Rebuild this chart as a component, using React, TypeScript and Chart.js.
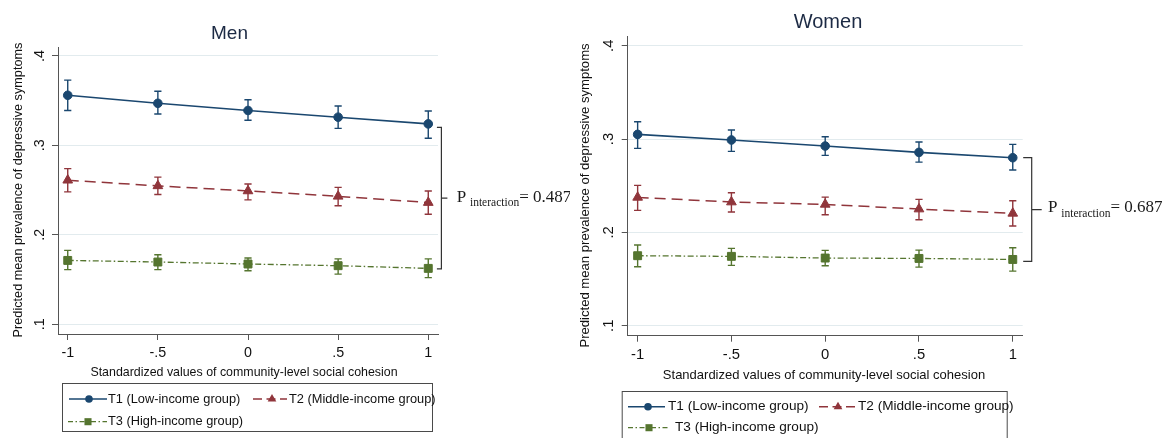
import React, { useEffect, useRef } from "react";
import { Chart, registerables } from "chart.js";

Chart.register(...registerables);

// ---------- data ----------
const cohesionValues = [-1, -0.5, 0, 0.5, 1];
const xTickValues = [-1, -0.5, 0, 0.5, 1];
const xTickLabels = ["-1", "-.5", "0", ".5", "1"];
const yTickValues = [0.1, 0.2, 0.3, 0.4];
const yTickLabels = [".1", ".2", ".3", ".4"];
const seriesNames = ["T1 (Low-income group)", "T2 (Middle-income group)", "T3 (High-income group)"];
const panelTitles = ["Men", "Women"];
const pInteraction = ["0.487", "0.687"];
const xAxisTitle = "Standardized values of community-level social cohesion";
const yAxisTitle = "Predicted mean prevalence of depressive symptoms";

const menT1 = [0.356, 0.347, 0.339, 0.3315, 0.324];
const menT1Low = [0.339, 0.335, 0.328, 0.319, 0.308];
const menT1High = [0.373, 0.3605, 0.351, 0.344, 0.3385];
const menT2 = [0.261, 0.2547, 0.249, 0.243, 0.236];
const menT2Low = [0.248, 0.245, 0.239, 0.2324, 0.223];
const menT2High = [0.274, 0.2645, 0.2567, 0.253, 0.249];
const menT3 = [0.1713, 0.1695, 0.1673, 0.1654, 0.1624];
const menT3Low = [0.161, 0.161, 0.1598, 0.156, 0.152];
const menT3High = [0.1825, 0.1777, 0.174, 0.173, 0.173];

const womenT1 = [0.305, 0.299, 0.2925, 0.2857, 0.28];
const womenT1Low = [0.29, 0.2868, 0.2825, 0.2753, 0.2668];
const womenT1High = [0.3186, 0.3097, 0.3025, 0.2968, 0.2943];
const womenT2 = [0.2375, 0.2325, 0.23, 0.225, 0.2204];
const womenT2Low = [0.2236, 0.2218, 0.2189, 0.2135, 0.2068];
const womenT2High = [0.2504, 0.2425, 0.2378, 0.2354, 0.2339];
const womenT3 = [0.175, 0.1743, 0.1725, 0.1721, 0.171];
const womenT3Low = [0.1632, 0.1647, 0.1642, 0.1628, 0.1585];
const womenT3High = [0.1864, 0.1829, 0.1807, 0.181, 0.1835];

// ---------- styles ----------
const SANS = "'Liberation Sans', Arial, Helvetica, sans-serif";
const SERIF = "'Liberation Serif', 'Times New Roman', serif";
const seriesStyles = [
  { color: "#1a476f", dash: [] as number[], legendDash: [] as number[], width: 1.6, point: "circle", radius: 4.3, legendRadius: 3.8 },
  { color: "#90353b", dash: [11, 6], legendDash: [9, 4.5], width: 1.5, point: "triangle", radius: 5.6, legendRadius: 5 },
  { color: "#55752f", dash: [6, 2.5, 1.5, 2.5], legendDash: [5, 2.5, 1.5, 2.5], width: 1.3, point: "rect", radius: 5.6, legendRadius: 5 },
];
const AXIS_COLOR = "#555555";
const GRID_COLOR = "#e2ebee";
const TEXT_COLOR = "#111111";
const TITLE_COLOR = "#1c2a44";

type Series = { mean: number[]; low: number[]; high: number[] };

const panels = [
  {
    title: panelTitles[0],
    p: pInteraction[0],
    series: [
      { mean: menT1, low: menT1Low, high: menT1High },
      { mean: menT2, low: menT2Low, high: menT2High },
      { mean: menT3, low: menT3Low, high: menT3High },
    ] as Series[],
    lay: {
      canvasLeft: 0,
      canvasWidth: 570,
      area: { left: 58, top: 47, right: 438, bottom: 334 },
      xMin: -1.054, xMax: 1.054, yMin: 0.089, yMax: 0.41,
      titleX: 229.5, titleBase: 39.3, titleSize: 19,
      yTitleX: 18.5, yTitleY: 190, yTitleSize: 12.7,
      xTitleX: 244, xTitleBase: 375.5, xTitleSize: 12.4,
      tickSize: 14.3, xTickPad: 4.4, yTickPad: 6.2, tickLen: 6,
      bracket: { dx: 3.4, topOff: 3.4, botOff: 0.6, leftTick: 4.5, rightTick: 6 },
      pText: { x: 456.7, baseOff: 4, size: 17, subSize: 11.5, gap: 3.8, subDrop: 4.3 },
      legend: {
        box: [62, 383, 432, 431],
        rows: [399, 421.7],
        size: 12.8,
        items: [
          { row: 0, x0: 69, x1: 107, mx: 89, tx: 108 },
          { row: 0, x0: 253, x1: 287, mx: 272, tx: 289 },
          { row: 1, x0: 68, x1: 107, mx: 88, tx: 108 },
        ],
      },
    },
  },
  {
    title: panelTitles[1],
    p: pInteraction[1],
    series: [
      { mean: womenT1, low: womenT1Low, high: womenT1High },
      { mean: womenT2, low: womenT2Low, high: womenT2High },
      { mean: womenT3, low: womenT3Low, high: womenT3High },
    ] as Series[],
    lay: {
      canvasLeft: 570,
      canvasWidth: 594,
      area: { left: 57.7, top: 36, right: 452.7, bottom: 335.7 },
      xMin: -1.053, xMax: 1.053, yMin: 0.0893, yMax: 0.4104,
      titleX: 258, titleBase: 28.3, titleSize: 20,
      yTitleX: 15.5, yTitleY: 195.5, yTitleSize: 13.1,
      xTitleX: 254, xTitleBase: 379, xTitleSize: 13,
      tickSize: 14.8, xTickPad: 4.6, yTickPad: 7, tickLen: 6,
      bracket: { dx: 9, topOff: 0, botOff: 2, leftTick: 8.5, rightTick: 10 },
      pText: { x: 478, baseOff: 2.7, size: 17, subSize: 11.5, gap: 3.8, subDrop: 4.3 },
      legend: {
        box: [51.7, 391, 436.7, 446],
        rows: [406.7, 427.7],
        size: 13.6,
        items: [
          { row: 0, x0: 58, x1: 95, mx: 78, tx: 98 },
          { row: 0, x0: 249, x1: 287, mx: 268, tx: 288 },
          { row: 1, x0: 58, x1: 98, mx: 79, tx: 105 },
        ],
      },
    },
  },
];

function drawMarker(ctx: CanvasRenderingContext2D, kind: string, x: number, y: number, r: number, color: string) {
  ctx.save();
  ctx.setLineDash([]);
  ctx.fillStyle = color;
  ctx.beginPath();
  if (kind === "circle") {
    ctx.arc(x, y, r, 0, Math.PI * 2);
  } else if (kind === "triangle") {
    ctx.moveTo(x, y - r);
    ctx.lineTo(x + r * 0.866, y + r * 0.5);
    ctx.lineTo(x - r * 0.866, y + r * 0.5);
    ctx.closePath();
  } else {
    const s = r * Math.SQRT1_2;
    ctx.rect(x - s, y - s, 2 * s, 2 * s);
  }
  ctx.fill();
  ctx.restore();
}

function makePlugin(panel: (typeof panels)[number]) {
  const L = panel.lay;
  return {
    id: "panelExtras",
    beforeDatasetsDraw(chart: any) {
      const ctx: CanvasRenderingContext2D = chart.ctx;
      const xs = chart.scales.x;
      const ys = chart.scales.y;
      ctx.save();
      ctx.setLineDash([]);
      ctx.lineWidth = 1.4;
      panel.series.forEach((s, i) => {
        ctx.strokeStyle = seriesStyles[i].color;
        cohesionValues.forEach((v, j) => {
          const px = xs.getPixelForValue(v);
          const lo = ys.getPixelForValue(s.low[j]);
          const hi = ys.getPixelForValue(s.high[j]);
          ctx.beginPath();
          ctx.moveTo(px, lo);
          ctx.lineTo(px, hi);
          ctx.moveTo(px - 3.6, lo);
          ctx.lineTo(px + 3.6, lo);
          ctx.moveTo(px - 3.6, hi);
          ctx.lineTo(px + 3.6, hi);
          ctx.stroke();
        });
      });
      ctx.restore();
    },
    afterDraw(chart: any) {
      const ctx: CanvasRenderingContext2D = chart.ctx;
      const ys = chart.scales.y;
      const area = chart.chartArea;
      ctx.save();
      // panel title
      ctx.fillStyle = TITLE_COLOR;
      ctx.font = `${L.titleSize}px ${SANS}`;
      ctx.textAlign = "center";
      ctx.textBaseline = "alphabetic";
      ctx.fillText(panel.title, L.titleX, L.titleBase);
      // axis titles
      ctx.fillStyle = TEXT_COLOR;
      ctx.font = `${L.xTitleSize}px ${SANS}`;
      ctx.fillText(xAxisTitle, L.xTitleX, L.xTitleBase);
      ctx.save();
      ctx.translate(L.yTitleX, L.yTitleY);
      ctx.rotate(-Math.PI / 2);
      ctx.font = `${L.yTitleSize}px ${SANS}`;
      ctx.textBaseline = "middle";
      ctx.fillText(yAxisTitle, 0, 0);
      ctx.restore();

      // bracket linking last points
      const last = cohesionValues.length - 1;
      const bx = area.right + L.bracket.dx;
      const top = ys.getPixelForValue(panel.series[0].mean[last]) + L.bracket.topOff;
      const bot = ys.getPixelForValue(panel.series[2].mean[last]) + L.bracket.botOff;
      const mid = (top + bot) / 2;
      ctx.strokeStyle = "#333333";
      ctx.lineWidth = 1.2;
      ctx.setLineDash([]);
      ctx.beginPath();
      ctx.moveTo(bx - L.bracket.leftTick, top);
      ctx.lineTo(bx, top);
      ctx.lineTo(bx, bot);
      ctx.lineTo(bx - L.bracket.leftTick, bot);
      ctx.moveTo(bx, mid);
      ctx.lineTo(bx + L.bracket.rightTick, mid);
      ctx.stroke();

      // P interaction text
      const pt = L.pText;
      const base = mid + pt.baseOff;
      ctx.fillStyle = "#1a1a1a";
      ctx.textAlign = "left";
      ctx.textBaseline = "alphabetic";
      ctx.font = `${pt.size}px ${SERIF}`;
      ctx.fillText("P", pt.x, base);
      let cx = pt.x + ctx.measureText("P").width + pt.gap;
      ctx.font = `${pt.subSize}px ${SERIF}`;
      ctx.fillText("interaction", cx, base + pt.subDrop);
      cx += ctx.measureText("interaction").width;
      ctx.font = `${pt.size}px ${SERIF}`;
      ctx.fillText("= " + panel.p, cx, base);

      // legend
      const lg = L.legend;
      ctx.strokeStyle = "#4a4a4a";
      ctx.lineWidth = 1;
      ctx.strokeRect(lg.box[0] + 0.5, lg.box[1] + 0.5, lg.box[2] - lg.box[0], lg.box[3] - lg.box[1]);
      ctx.font = `${lg.size}px ${SANS}`;
      ctx.textBaseline = "middle";
      lg.items.forEach((it, i) => {
        const st = seriesStyles[i];
        const y = lg.rows[it.row];
        ctx.strokeStyle = st.color;
        ctx.lineWidth = st.width;
        ctx.setLineDash(st.legendDash);
        ctx.beginPath();
        ctx.moveTo(it.x0, y);
        ctx.lineTo(it.x1, y);
        ctx.stroke();
        ctx.setLineDash([]);
        drawMarker(ctx, st.point, it.mx, y, st.legendRadius, st.color);
        ctx.fillStyle = TEXT_COLOR;
        ctx.fillText(seriesNames[i], it.tx, y);
      });
      ctx.restore();
    },
  };
}

function buildConfig(panel: (typeof panels)[number]): any {
  const L = panel.lay;
  const H = 438;
  return {
    type: "line",
    data: {
      datasets: panel.series.map((s, i) => {
        const st = seriesStyles[i];
        return {
          label: seriesNames[i],
          data: cohesionValues.map((x, j) => ({ x, y: s.mean[j] })),
          borderColor: st.color,
          backgroundColor: st.color,
          borderWidth: st.width,
          borderDash: st.dash,
          pointStyle: st.point,
          pointRadius: st.radius,
          pointBackgroundColor: st.color,
          pointBorderColor: st.color,
          pointBorderWidth: 1,
          tension: 0,
          fill: false,
        };
      }),
    },
    options: {
      responsive: false,
      animation: false,
      devicePixelRatio: 1,
      events: [],
      layout: {
        autoPadding: false,
        padding: { left: 0, top: L.area.top, right: L.canvasWidth - L.area.right, bottom: 0 },
      },
      plugins: { legend: { display: false }, title: { display: false }, tooltip: { enabled: false } },
      scales: {
        x: {
          type: "linear",
          position: "bottom",
          min: L.xMin,
          max: L.xMax,
          afterBuildTicks: (sc: any) => {
            sc.ticks = xTickValues.map((v) => ({ value: v }));
          },
          afterFit: (sc: any) => {
            sc.height = H - L.area.bottom;
          },
          grid: { display: true, drawOnChartArea: false, drawTicks: true, tickLength: L.tickLen, tickColor: AXIS_COLOR, tickWidth: 1 },
          border: { display: true, color: AXIS_COLOR, width: 1 },
          ticks: {
            autoSkip: false,
            maxRotation: 0,
            minRotation: 0,
            padding: L.xTickPad,
            color: TEXT_COLOR,
            font: { family: SANS, size: L.tickSize },
            callback: (_v: any, i: number) => xTickLabels[i],
          },
        },
        y: {
          type: "linear",
          position: "left",
          min: L.yMin,
          max: L.yMax,
          afterBuildTicks: (sc: any) => {
            sc.ticks = yTickValues.map((v) => ({ value: v }));
          },
          afterFit: (sc: any) => {
            sc.width = L.area.left;
          },
          grid: { display: true, drawOnChartArea: true, drawTicks: true, tickLength: L.tickLen, color: GRID_COLOR, tickColor: AXIS_COLOR, lineWidth: 1 },
          border: { display: true, color: AXIS_COLOR, width: 1 },
          ticks: {
            autoSkip: false,
            minRotation: 90,
            maxRotation: 90,
            crossAlign: "center",
            padding: L.yTickPad,
            color: TEXT_COLOR,
            font: { family: SANS, size: L.tickSize },
            callback: (_v: any, i: number) => yTickLabels[i],
          },
        },
      },
    },
    plugins: [makePlugin(panel)],
  };
}

function Panel({ panel }: { panel: (typeof panels)[number] }) {
  const ref = useRef<HTMLCanvasElement>(null);
  useEffect(() => {
    const chart = new Chart(ref.current as HTMLCanvasElement, buildConfig(panel));
    return () => chart.destroy();
  }, [panel]);
  const L = panel.lay;
  return (
    <canvas
      ref={ref}
      width={L.canvasWidth}
      height={438}
      style={{ position: "absolute", left: L.canvasLeft, top: 0, width: L.canvasWidth, height: 438 }}
    />
  );
}

export default function App() {
  return (
    <div style={{ position: "absolute", left: 0, top: 0, width: 1164, height: 438, background: "#ffffff", overflow: "hidden" }}>
      {panels.map((p) => (
        <Panel key={p.title} panel={p} />
      ))}
    </div>
  );
}
